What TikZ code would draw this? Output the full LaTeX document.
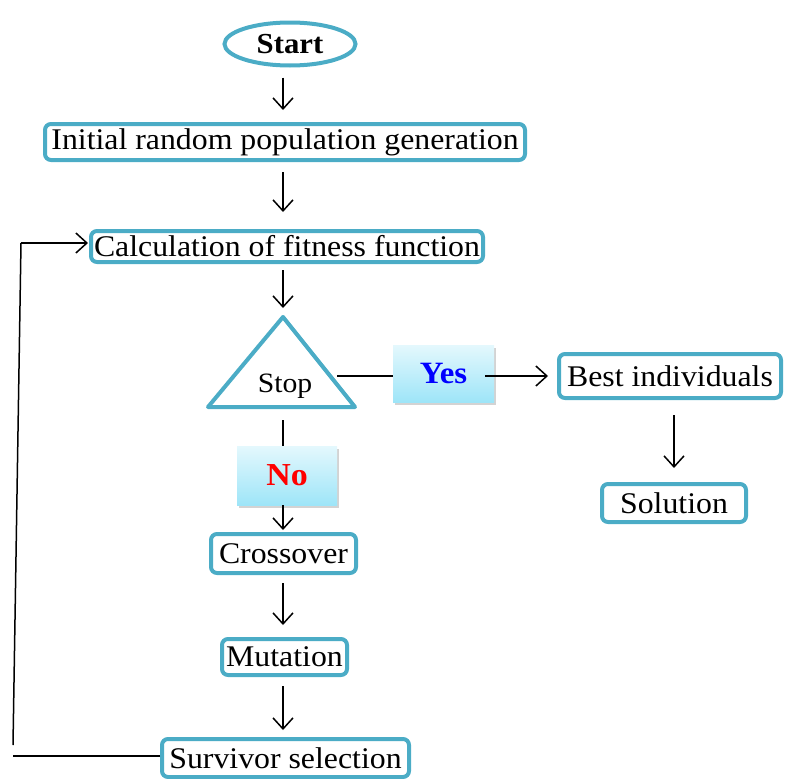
\documentclass[tikz,border=0pt]{standalone}
\usepackage{fontspec}
\setmainfont[FakeStretch=1.06]{Liberation Serif}
\usetikzlibrary{arrows.meta,shadows,shapes.geometric}
\definecolor{boxc}{HTML}{4BACC6}
\definecolor{gtop}{HTML}{E4F8FD}
\definecolor{gbot}{HTML}{9EE5F8}
\definecolor{yesblue}{HTML}{0000FF}
\definecolor{nored}{HTML}{FF0000}
\begin{document}
\begin{tikzpicture}[x=1pt,y=-1pt,
  box/.style={draw=boxc,line width=4pt,rounded corners=6pt,fill=white,inner sep=0pt,font=\fontsize{30}{32}\selectfont},
  arr/.style={line width=1.5pt,-{Straight Barb[length=11pt,width=20pt,line width=1.5pt]}},
  ln/.style={line width=1.5pt},
  glabel/.style={top color=gtop,bottom color=gbot,draw=none,inner sep=0pt,
     drop shadow={shadow xshift=2pt,shadow yshift=-3pt,opacity=0.35},
     font=\bfseries\fontsize{31}{33}\selectfont}]
\useasboundingbox (0,0) rectangle (785,779);
\coordinate (col) at (283,0);
% nodes
\node[draw=boxc,line width=4pt,ellipse,minimum width=131pt,minimum height=43pt,inner sep=0pt,font=\bfseries\fontsize{29}{31}\selectfont] (start) at (290,44) {Start\hspace{9pt}};
\node[box,minimum width=480pt,minimum height=36pt] (init) at (285,142) {Initial random population generation};
\node[box,minimum width=392pt,minimum height=31pt] (calc) at (287,246.5) {Calculation of fitness function};
\coordinate (apex) at (283,317);
\coordinate (bl) at (208,407);
\coordinate (br) at (355,407);
\coordinate (basemid) at (283,407);
\coordinate (trir) at (337,376);
\draw[draw=boxc,line width=4pt,line join=round] (apex) -- (br) -- (bl) -- cycle;
\node[font=\fontsize{28}{30}\selectfont] (stop) at (285,386) {Stop};
\node[glabel,minimum width=101pt,minimum height=57pt,text=yesblue] (yes) at (443.5,373.5) {Yes};
\node[box,minimum width=222pt,minimum height=44pt] (best) at (670,376) {Best individuals};
\node[box,minimum width=144pt,minimum height=38pt] (sol) at (674,503) {Solution};
\node[glabel,minimum width=100pt,minimum height=59pt,text=nored,font=\bfseries\fontsize{32}{34}\selectfont] (no) at (287,475.5) {No};
\node[box,minimum width=145pt,minimum height=39pt] (cross) at (283.5,553.5) {Crossover};
\node[box,minimum width=125pt,minimum height=36pt] (mut) at (284.5,657) {Mutation};
\node[box,minimum width=247pt,minimum height=38pt] (surv) at (285.5,758) {Survivor selection};
% connectors
\draw[arr,shorten <=10pt,shorten >=12pt] (start.south -| col) -- (init.north -| col);
\draw[arr,shorten <=10pt,shorten >=17pt] (init.south -| col) -- (calc.north -| col);
\draw[arr,shorten <=6pt,shorten >=9pt] (calc.south -| col) -- (apex);
\draw[ln] (trir) -- (yes.west |- trir);
\draw[arr,shorten <=-9pt,shorten >=9pt] (yes.east |- trir) -- (best.west |- trir);
\draw[arr,shorten <=15pt,shorten >=14pt] (best.south -| sol) -- (sol.north);
\draw[ln,shorten <=13pt] (basemid) -- (no.north -| col);
\draw[arr,shorten >=2pt] (no.south -| col) -- (cross.north -| col);
\draw[arr,shorten <=8pt,shorten >=12pt] (cross.south -| col) -- (mut.north -| col);
\draw[arr,shorten <=9pt,shorten >=7pt] (mut.south -| col) -- (surv.north -| col);
% feedback
\coordinate (fb1) at (13,756);
\coordinate (fb2) at (13,745);
\coordinate (fb3) at (21,243);
\draw[ln] (surv.west |- fb1) -- (fb1);
\draw[ln] (fb2) -- (fb3);
\draw[arr,shorten >=1pt] (fb3) -- (calc.west |- fb3);
\end{tikzpicture}
\end{document}
